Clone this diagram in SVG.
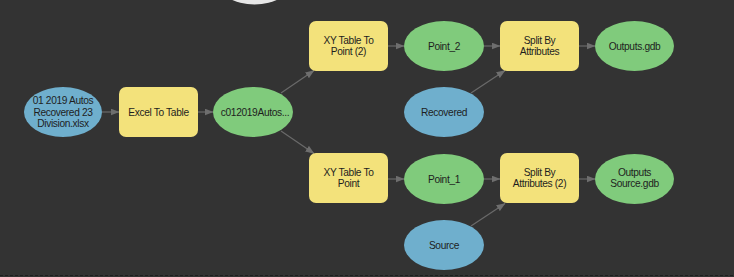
<svg xmlns="http://www.w3.org/2000/svg" width="734" height="277" viewBox="0 0 734 277">
<style>
.bg{fill:#333333}
.ds{fill:#6fafcd}
.tool{fill:#f3e27b}
.out{fill:#80cb7c}
text{font-family:"Liberation Sans",Arial,sans-serif;font-size:10.2px;letter-spacing:-0.35px;fill:#1e1e1e;text-anchor:middle}
.c line{stroke:#6a6a6a;stroke-width:1.2;marker-end:url(#ah)}
</style>
<defs>
<marker id="ah" markerWidth="9" markerHeight="7" refX="8.5" refY="3.5" orient="auto" markerUnits="userSpaceOnUse">
<path d="M0,0 L9,3.5 L0,7 Z" fill="#6e6e6e"/>
</marker>
</defs>
<rect class="bg" x="0" y="0" width="734" height="277"/>
<ellipse cx="254.5" cy="-18" rx="37" ry="22.5" fill="#e6e6e6"/>
<line x1="0" y1="275.5" x2="734" y2="275.5" stroke="#1f1f1f" stroke-width="1" stroke-dasharray="3,2"/>
<g class="c" id="connectors">
<line x1="102" y1="112" x2="119" y2="112"/>
<line x1="198" y1="112" x2="213" y2="112"/>
<line x1="281" y1="93" x2="314" y2="70.5"/>
<line x1="281" y1="131" x2="314" y2="153.5"/>
<line x1="388" y1="46" x2="404" y2="46"/>
<line x1="484" y1="46" x2="500" y2="46"/>
<line x1="579" y1="46" x2="595" y2="46"/>
<line x1="471" y1="93" x2="505" y2="70.5"/>
<line x1="388" y1="179" x2="404" y2="179"/>
<line x1="484" y1="179" x2="500" y2="179"/>
<line x1="579" y1="179" x2="595" y2="179"/>
<line x1="471" y1="226" x2="505" y2="203.5"/>
</g>
<g id="n_input">
<ellipse class="ds" cx="63" cy="112" rx="39" ry="25"/>
<text x="63" y="104">01 2019 Autos</text>
<text x="63" y="115.5">Recovered 23</text>
<text x="63" y="126.5">Division.xlsx</text>
</g>
<g id="n_excel">
<rect class="tool" x="119" y="87" width="79" height="50" rx="7"/>
<text x="158.5" y="115.5">Excel To Table</text>
</g>
<g id="n_table">
<ellipse class="out" cx="253" cy="112" rx="40" ry="25"/>
<text x="255" y="115.5">c012019Autos...</text>
</g>
<g id="n_xy2">
<rect class="tool" x="309" y="21" width="79" height="50" rx="7"/>
<text x="348.5" y="44">XY Table To</text>
<text x="348.5" y="55">Point (2)</text>
</g>
<g id="n_point2">
<ellipse class="out" cx="444" cy="46" rx="40" ry="25"/>
<text x="444" y="49.5">Point_2</text>
</g>
<g id="n_split">
<rect class="tool" x="500" y="21" width="79" height="50" rx="7"/>
<text x="539.5" y="44">Split By</text>
<text x="539.5" y="55">Attributes</text>
</g>
<g id="n_outputs">
<ellipse class="out" cx="634.5" cy="46" rx="39.5" ry="25"/>
<text x="634.5" y="49.5">Outputs.gdb</text>
</g>
<g id="n_recovered">
<ellipse class="ds" cx="444" cy="112" rx="40" ry="25"/>
<text x="444" y="115.5">Recovered</text>
</g>
<g id="n_xy">
<rect class="tool" x="309" y="153" width="79" height="50" rx="7"/>
<text x="348.5" y="176">XY Table To</text>
<text x="348.5" y="187">Point</text>
</g>
<g id="n_point1">
<ellipse class="out" cx="444" cy="179" rx="40" ry="25"/>
<text x="444" y="182.5">Point_1</text>
</g>
<g id="n_split2">
<rect class="tool" x="500" y="153" width="79" height="50" rx="7"/>
<text x="539.5" y="176">Split By</text>
<text x="539.5" y="187">Attributes (2)</text>
</g>
<g id="n_outsource">
<ellipse class="out" cx="634.5" cy="179" rx="39.5" ry="25"/>
<text x="634.5" y="176">Outputs</text>
<text x="634.5" y="187">Source.gdb</text>
</g>
<g id="n_source">
<ellipse class="ds" cx="444" cy="245" rx="40" ry="25"/>
<text x="444" y="248.5">Source</text>
</g>
</svg>
